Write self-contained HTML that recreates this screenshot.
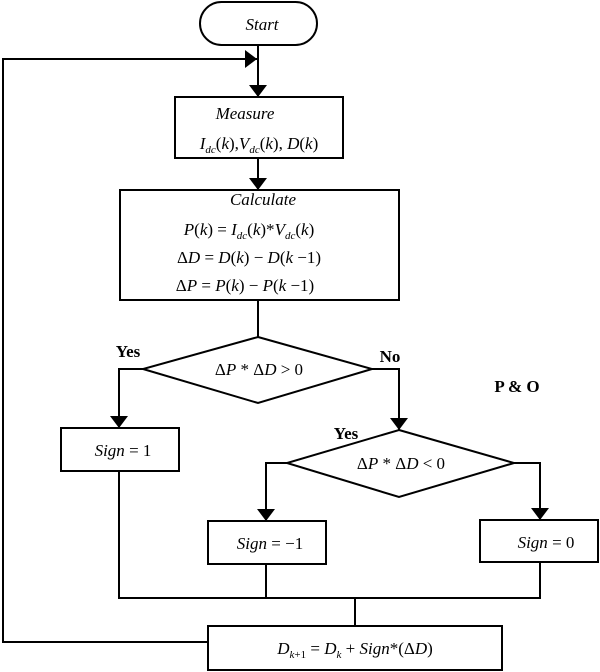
<!DOCTYPE html>
<html><head><meta charset="utf-8"><style>
body{margin:0;background:#fff}
svg{display:block}
text{font-family:"Liberation Serif",serif;font-size:17px;fill:#000}
.i{font-style:italic}
.b{font-weight:bold}
</style></head><body>
<svg width="600" height="672" viewBox="0 0 600 672" xmlns="http://www.w3.org/2000/svg">
<defs><marker id="a" markerWidth="10" markerHeight="12" refX="10" refY="6" orient="auto" markerUnits="userSpaceOnUse"><path d="M0,0 L10,6 L0,12 z" fill="#000"/></marker>
<marker id="d" viewBox="0 0 12 18" markerWidth="12" markerHeight="18" refX="12" refY="9" orient="auto" markerUnits="userSpaceOnUse"><path d="M0,0 L12,9 L0,18 z" fill="#000"/></marker></defs>
<g stroke="#000" stroke-width="2" fill="none">
<rect x="200" y="2" width="117" height="43" rx="21.5"/>
<line x1="258" y1="45" x2="258" y2="97" marker-end="url(#d)"/>
<polyline points="208,642 3,642 3,59 257,59" marker-end="url(#d)"/>
<rect x="175" y="97" width="168" height="61"/>
<line x1="258" y1="158" x2="258" y2="190" marker-end="url(#d)"/>
<rect x="120" y="190" width="279" height="110"/>
<line x1="258" y1="300" x2="258" y2="337"/>
<polygon points="258,337 372,369 258,403 143,369"/>
<polyline points="143,369 119,369 119,428" marker-end="url(#d)"/>
<polyline points="372,369 399,369 399,430" marker-end="url(#d)"/>
<rect x="61" y="428" width="118" height="43"/>
<polygon points="399,430 514,463 399,497 287,463"/>
<polyline points="287,463 266,463 266,521" marker-end="url(#d)"/>
<polyline points="514,463 540,463 540,520" marker-end="url(#d)"/>
<rect x="208" y="521" width="118" height="43"/>
<rect x="480" y="520" width="118" height="42"/>
<polyline points="119,471 119,598 540,598 540,562"/>
<line x1="266" y1="564" x2="266" y2="598"/>
<line x1="355" y1="598" x2="355" y2="626"/>
<rect x="208" y="626" width="294" height="44"/>
</g>
<text x="262" y="30" text-anchor="middle" class="i">Start</text>
<text x="245" y="119" text-anchor="middle" class="i">Measure</text>
<text x="259" y="149" text-anchor="middle"><tspan class="i">I</tspan><tspan font-size="11" dy="4" class="i">dc</tspan><tspan dy="-4">(</tspan><tspan class="i">k</tspan>),<tspan class="i">V</tspan><tspan font-size="11" dy="4" class="i">dc</tspan><tspan dy="-4">(</tspan><tspan class="i">k</tspan>), <tspan class="i">D</tspan>(<tspan class="i">k</tspan>)</text>
<text x="263" y="205" text-anchor="middle" class="i">Calculate</text>
<text x="249" y="235" text-anchor="middle"><tspan class="i">P</tspan>(<tspan class="i">k</tspan>) = <tspan class="i">I</tspan><tspan font-size="11" dy="4" class="i">dc</tspan><tspan dy="-4">(</tspan><tspan class="i">k</tspan>)*<tspan class="i">V</tspan><tspan font-size="11" dy="4" class="i">dc</tspan><tspan dy="-4">(</tspan><tspan class="i">k</tspan>)</text>
<text x="249" y="263" text-anchor="middle">Δ<tspan class="i">D</tspan> = <tspan class="i">D</tspan>(<tspan class="i">k</tspan>) − <tspan class="i">D</tspan>(<tspan class="i">k</tspan> −1)</text>
<text x="245" y="291" text-anchor="middle">Δ<tspan class="i">P</tspan> = <tspan class="i">P</tspan>(<tspan class="i">k</tspan>) − <tspan class="i">P</tspan>(<tspan class="i">k</tspan> −1)</text>
<text x="259" y="375" text-anchor="middle">Δ<tspan class="i">P</tspan> * Δ<tspan class="i">D</tspan> &gt; 0</text>
<text x="401" y="469" text-anchor="middle">Δ<tspan class="i">P</tspan> * Δ<tspan class="i">D</tspan> &lt; 0</text>
<text x="128" y="357" text-anchor="middle" class="b" font-size="14">Yes</text>
<text x="390" y="362" text-anchor="middle" class="b" font-size="14">No</text>
<text x="346" y="439" text-anchor="middle" class="b" font-size="14">Yes</text>
<text x="517" y="392" text-anchor="middle" class="b" font-size="21">P &amp; O</text>
<text x="123" y="456" text-anchor="middle"><tspan class="i">Sign</tspan> = 1</text>
<text x="270" y="549" text-anchor="middle"><tspan class="i">Sign</tspan> = −1</text>
<text x="546" y="548" text-anchor="middle"><tspan class="i">Sign</tspan> = 0</text>
<text x="355" y="654" text-anchor="middle"><tspan class="i">D</tspan><tspan font-size="11" dy="4" class="i">k</tspan><tspan font-size="11">+1</tspan><tspan dy="-4"> = </tspan><tspan class="i">D</tspan><tspan font-size="11" dy="4" class="i">k</tspan><tspan dy="-4"> + </tspan><tspan class="i">Sign</tspan>*(Δ<tspan class="i">D</tspan>)</text>
</svg>
</body></html>
